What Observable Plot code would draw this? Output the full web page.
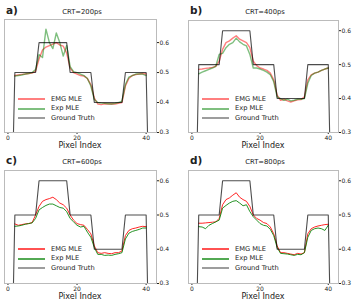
<!DOCTYPE html>
<html>
<head>
<meta charset="utf-8">
<script src="https://cdn.jsdelivr.net/npm/d3@7"></script>
<script src="https://cdn.jsdelivr.net/npm/@observablehq/plot@0.6"></script>
<style>
  html, body { margin: 0; padding: 0; background: #fff; }
  #root { position: relative; width: 355px; height: 303px; font-family: "DejaVu Sans", sans-serif; color: #222; }
  .panel { position: absolute; }
  .panel svg { position: absolute; left: 0; top: 0; overflow: visible; }
  .lab { position: absolute; white-space: nowrap; line-height: 1; }
  .letter { font-weight: bold; font-size: 10.5px; }
  .title { font-size: 6.8px; transform: translateX(-50%); }
  .xlabel { font-size: 8px; transform: translateX(-50%); }
  .leg { font-size: 6.7px; }
</style>
</head>
<body>
<div id="root"></div>
<script>
// ---- data ----
const pixels = d3.range(2, 41);           // estimate pixel indices 2..40
const truthPixels = d3.range(1, 42);      // ground truth pixel indices 1..41
const groundTruth = [0,
  0.5,0.5,0.5,0.5,0.5,0.5,0.5,
  0.6,0.6,0.6,0.6,0.6,0.6,0.6,0.6,0.6,
  0.5,0.5,0.5,0.5,0.5,0.5,0.5,
  0.4,0.4,0.4,0.4,0.4,0.4,0.4,0.4,0.4,
  0.5,0.5,0.5,0.5,0.5,0.5,0.5,
  0];

const panelLetters = ["a)", "b)", "c)", "d)"];
const panelTitles = ["CRT=200ps", "CRT=400ps", "CRT=600ps", "CRT=800ps"];
const yTops = [0.677, 0.63, 0.63, 0.63];
const xTicks = [0, 20, 40];
const yTicks = [0.3, 0.4, 0.5, 0.6];
const legendLabels = ["EMG MLE", "Exp MLE", "Ground Truth"];

const emg200 = [0.49,0.492,0.494,0.495,0.497,0.498,0.505,0.545,0.575,0.585,0.59,0.595,0.6,0.592,0.588,0.565,0.515,0.5,0.495,0.49,0.488,0.48,0.46,0.415,0.395,0.393,0.396,0.395,0.396,0.395,0.397,0.4,0.455,0.48,0.49,0.493,0.495,0.497,0.495];
const exp200 = [0.488,0.49,0.492,0.495,0.497,0.5,0.51,0.56,0.55,0.645,0.6,0.58,0.632,0.6,0.555,0.59,0.52,0.503,0.5,0.495,0.49,0.48,0.455,0.41,0.4,0.398,0.397,0.396,0.395,0.397,0.4,0.405,0.46,0.485,0.49,0.495,0.495,0.495,0.49];
const emg400 = [0.486,0.487,0.489,0.49,0.492,0.495,0.51,0.545,0.565,0.57,0.578,0.585,0.575,0.57,0.565,0.55,0.51,0.497,0.49,0.487,0.483,0.475,0.455,0.41,0.395,0.398,0.393,0.39,0.393,0.396,0.397,0.405,0.455,0.47,0.475,0.478,0.483,0.487,0.49];
const exp400 = [0.473,0.478,0.482,0.486,0.49,0.495,0.53,0.533,0.55,0.56,0.565,0.578,0.567,0.56,0.555,0.53,0.49,0.49,0.487,0.483,0.478,0.47,0.45,0.405,0.4,0.395,0.398,0.393,0.395,0.398,0.398,0.4,0.445,0.468,0.475,0.478,0.483,0.487,0.49];
const emg600 = [0.474,0.47,0.472,0.474,0.475,0.478,0.5,0.525,0.54,0.545,0.548,0.552,0.545,0.535,0.53,0.52,0.5,0.485,0.475,0.472,0.47,0.458,0.445,0.41,0.39,0.388,0.39,0.388,0.387,0.39,0.39,0.395,0.44,0.455,0.46,0.462,0.465,0.467,0.466];
const exp600 = [0.467,0.468,0.47,0.473,0.475,0.477,0.49,0.515,0.522,0.528,0.532,0.532,0.527,0.522,0.52,0.51,0.49,0.48,0.47,0.465,0.467,0.45,0.435,0.405,0.385,0.385,0.382,0.383,0.382,0.385,0.387,0.39,0.43,0.447,0.452,0.455,0.458,0.462,0.462];
const emg800 = [0.476,0.476,0.477,0.478,0.479,0.48,0.49,0.53,0.545,0.55,0.558,0.565,0.552,0.545,0.54,0.525,0.5,0.49,0.485,0.478,0.475,0.465,0.445,0.41,0.39,0.39,0.388,0.386,0.384,0.388,0.386,0.39,0.445,0.46,0.465,0.468,0.47,0.472,0.473];
const exp800 = [0.466,0.465,0.46,0.47,0.475,0.48,0.485,0.52,0.528,0.535,0.54,0.542,0.535,0.527,0.53,0.51,0.495,0.485,0.475,0.47,0.468,0.458,0.44,0.405,0.388,0.387,0.386,0.384,0.382,0.385,0.384,0.39,0.435,0.455,0.46,0.462,0.46,0.455,0.47];

const emgSeries = [emg200, emg400, emg600, emg800];
const expSeries = [exp200, exp400, exp600, exp800];

// ---- layout (positions/styles) ----
const layout = [
  {left: 0,   top: 0,   w: 175, h: 150, mL: 4,  mR: 19, mT: 19, mB: 18, alpha: 0.5, lw: 1.4, legX: 18, legY: 99},
  {left: 175, top: 0,   w: 180, h: 150, mL: 13, mR: 17, mT: 20, mB: 18, alpha: 0.5, lw: 1.4, legX: 27, legY: 99},
  {left: 0,   top: 150, w: 175, h: 153, mL: 4,  mR: 19, mT: 20, mB: 20, alpha: 0.85, lw: 1, legX: 18, legY: 99},
  {left: 175, top: 150, w: 180, h: 153, mL: 13, mR: 17, mT: 20, mB: 20, alpha: 0.85, lw: 1, legX: 27, legY: 99}
];

const root = document.getElementById("root");

layout.forEach((L, i) => {
  const panel = document.createElement("div");
  panel.className = "panel";
  panel.style.left = L.left + "px";
  panel.style.top = L.top + "px";
  panel.style.width = L.w + "px";
  panel.style.height = L.h + "px";

  const truth = truthPixels.map((p, k) => ({x: p, y: groundTruth[k]}));
  const emg = pixels.map((p, k) => ({x: p, y: emgSeries[i][k]}));
  const ex = pixels.map((p, k) => ({x: p, y: expSeries[i][k]}));

  const svg = Plot.plot({
    width: L.w, height: L.h,
    marginLeft: L.mL, marginRight: L.mR, marginTop: L.mT, marginBottom: L.mB,
    style: {fontFamily: "DejaVu Sans, sans-serif", fontSize: "6px", color: "#222", background: "transparent"},
    x: {domain: [-1, 43], ticks: xTicks, tickSize: 2, tickPadding: 1, label: null},
    y: {domain: [0.3, yTops[i]], axis: "right", ticks: yTicks, tickFormat: ".1f", tickSize: 2, tickPadding: 1, label: null},
    marks: [
      Plot.line(emg, {x: "x", y: "y", stroke: "red", strokeOpacity: L.alpha, strokeWidth: L.lw, clip: true}),
      Plot.line(ex, {x: "x", y: "y", stroke: "green", strokeOpacity: L.alpha, strokeWidth: L.lw, clip: true}),
      Plot.line(truth, {x: "x", y: "y", stroke: "black", strokeOpacity: 0.7, strokeWidth: 1.1, clip: true}),
      Plot.frame({stroke: "#bbb", strokeWidth: 1})
    ]
  });
  panel.appendChild(svg);

  const frameCx = L.mL + (L.w - L.mL - L.mR) / 2;

  const letter = document.createElement("div");
  letter.className = "lab letter";
  letter.textContent = panelLetters[i];
  letter.style.left = (L.mL + 2) + "px";
  letter.style.top = "5px";
  panel.appendChild(letter);

  const title = document.createElement("div");
  title.className = "lab title";
  title.textContent = panelTitles[i];
  title.style.left = (frameCx + 2) + "px";
  title.style.top = "9px";
  panel.appendChild(title);

  const xl = document.createElement("div");
  xl.className = "lab xlabel";
  xl.textContent = "Pixel Index";
  xl.style.left = frameCx + "px";
  xl.style.top = (L.h - L.mB + 10) + "px";
  panel.appendChild(xl);

  // legend
  const legColors = ["red", "green", "black"];
  const legAlpha = [L.alpha, L.alpha, 0.7];
  const legW = [L.lw + 0.6, L.lw + 0.6, 1.1];
  legendLabels.forEach((txt, k) => {
    const y = L.legY + k * 9.7;
    const line = document.createElementNS("http://www.w3.org/2000/svg", "svg");
    line.setAttribute("width", 28);
    line.setAttribute("height", 4);
    line.style.position = "absolute";
    line.style.left = L.legX + "px";
    line.style.top = (y - 2) + "px";
    const ln = document.createElementNS("http://www.w3.org/2000/svg", "line");
    ln.setAttribute("x1", 0); ln.setAttribute("x2", 27);
    ln.setAttribute("y1", 2); ln.setAttribute("y2", 2);
    ln.setAttribute("stroke", legColors[k]);
    ln.setAttribute("stroke-opacity", legAlpha[k]);
    ln.setAttribute("stroke-width", legW[k]);
    line.appendChild(ln);
    panel.appendChild(line);
    const t = document.createElement("div");
    t.className = "lab leg";
    t.textContent = txt;
    t.style.left = (L.legX + 33) + "px";
    t.style.top = (y - 3.5) + "px";
    panel.appendChild(t);
  });

  root.appendChild(panel);
});
</script>
</body>
</html>
